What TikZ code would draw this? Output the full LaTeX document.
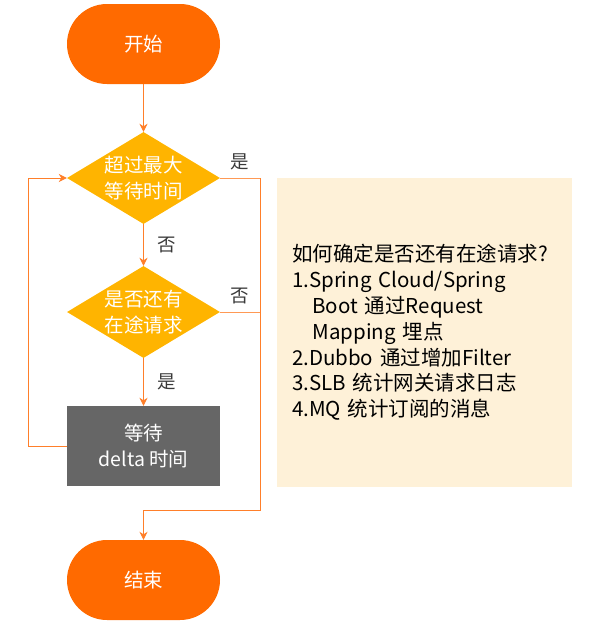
\documentclass[tikz,border=0pt]{standalone}
\usepackage{fontspec}
\setmainfont{Noto Sans CJK SC}
\usetikzlibrary{shapes,arrows.meta,calc}

\definecolor{aliorange}{HTML}{FF6A00}
\definecolor{amber}{HTML}{FFB400}
\definecolor{darkbox}{HTML}{666666}
\definecolor{cream}{HTML}{FEF1D8}
\definecolor{lineorange}{HTML}{FF7F2A}
\definecolor{labelgray}{HTML}{3A3A3A}

\begin{document}
\begin{tikzpicture}[x=1pt,y=1pt]
\tikzset{
terminal/.style={rectangle,rounded corners=40pt,fill=aliorange,text=white,minimum width=153pt,minimum height=80pt,font=\fontsize{19.5}{26}\selectfont,node distance=134pt},
decision/.style={diamond,shape aspect=1.66,fill=amber,text=white,minimum width=153pt,minimum height=92pt,inner sep=-4pt,align=center,font=\fontsize{19.5}{26}\selectfont,node distance=134pt},
block/.style={rectangle,fill=darkbox,text=white,minimum width=153pt,minimum height=80pt,align=center,font=\fontsize{19.5}{26}\selectfont,node distance=134pt},
notebox/.style={rectangle,fill=cream,minimum width=295pt,minimum height=309pt,text width=265pt,align=left,font=\fontsize{20.5}{25.8}\selectfont},
myarrow/.style={-{Stealth[length=8pt,width=8pt,inset=2.5pt]}, draw=lineorange, line width=0.9pt},
myline/.style={draw=lineorange!80, line width=0.9pt},
mylabel/.style={text=labelgray, font=\fontsize{18.5}{22}\selectfont},
}
\useasboundingbox (0,0) rectangle (600,-627);

\node [terminal] (start) at (143.5,-44) {开始};
\node [decision, below of=start] (timeout) {超过最大\\等待时间};
\node [decision, below of=timeout] (pending) {是否还有\\在途请求};
\node [block, below of=pending] (wait) {等待\\delta 时间};
\node [terminal, below of=wait] (stop) {结束};
\node [notebox] (note) at (424.5,-332.5) {如何确定是否还有在途请求?\\
1.Spring Cloud/Spring\\
\hspace*{1em}Boot 通过Request\\
\hspace*{1em}Mapping 埋点\\
2.Dubbo 通过增加Filter\\
3.SLB 统计网关请求日志\\
4.MQ 统计订阅的消息};

\draw[myarrow] (start) -- (timeout);
\draw[myarrow] (timeout) -- node[mylabel,right,xshift=10pt] {否} (pending);
\draw[myarrow] (pending) -- node[mylabel,right,xshift=10pt] {是} (wait);
\draw[myline] (timeout.east) -- node[mylabel,above,yshift=4pt] {是} ++(40,0) coordinate (turn);
\draw[myline] (pending.east) -- node[mylabel,above,yshift=4pt] {否} (pending.east -| turn);
\draw[myarrow] (turn) |- ([yshift=29pt]stop.north) -- (stop.north);
\draw[myarrow] (wait.west) -- ++(-38,0) |- (timeout.west);
\end{tikzpicture}
\end{document}
